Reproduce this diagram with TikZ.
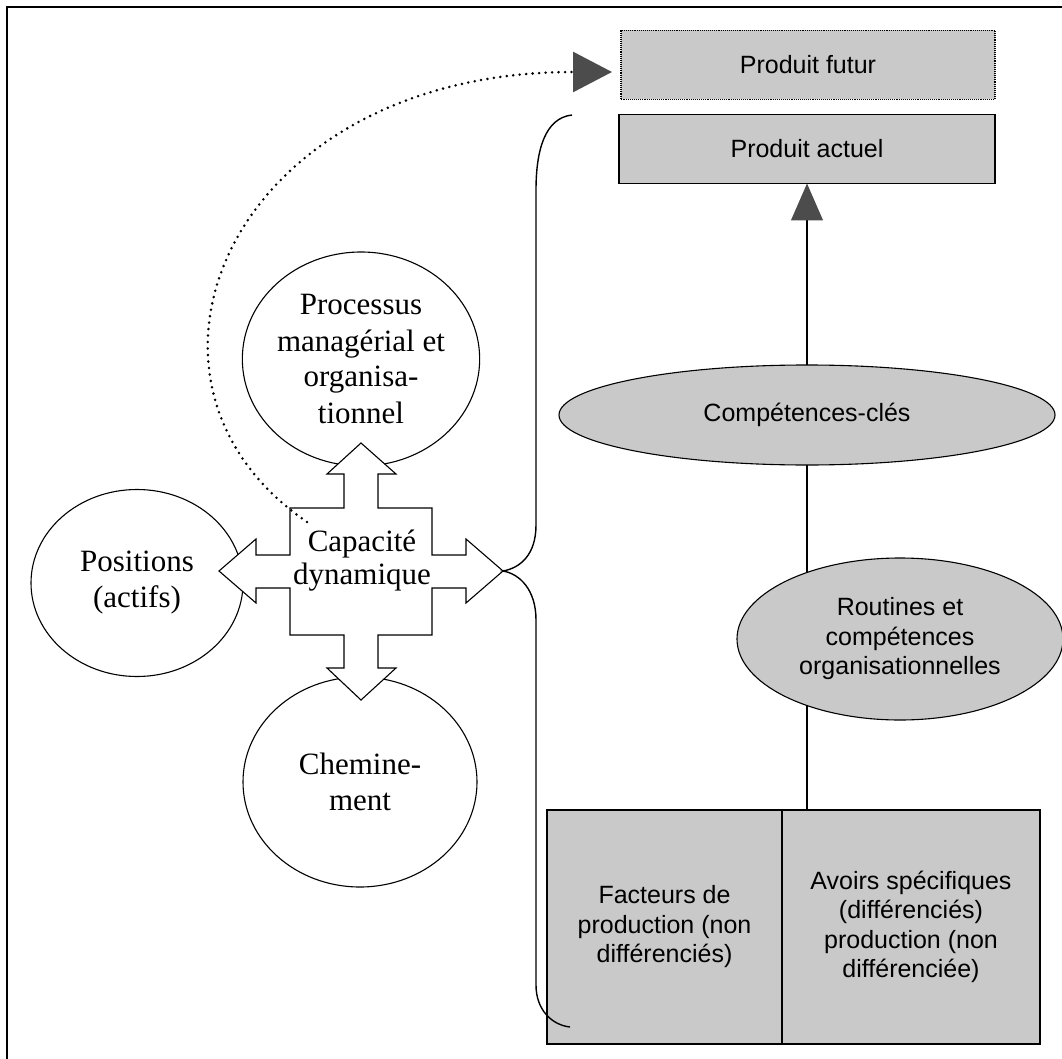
\documentclass[tikz,border=0pt]{standalone}
\usepackage{fontspec}
\setmainfont{Liberation Serif}
\newfontfamily\sansfam{Liberation Sans}
\usetikzlibrary{shapes.geometric,arrows.meta,backgrounds}
\begin{document}
\begin{tikzpicture}[x=1pt,y=-1pt,
  every node/.style={inner sep=0pt, outer sep=0pt},
  serif/.style={font=\fontsize{31}{36}\selectfont, align=center},
  sans/.style={font=\sansfam\fontsize{25}{29.5}\selectfont, align=center},
  shade/.style={fill=black!21},
  thin line/.style={line width=1.1pt},
  roundish/.style={ellipse, draw, thin line, fill=white, serif},
  oval/.style={ellipse, draw, thin line, shade, sans},
  panel/.style={rectangle, draw, line width=1.3pt, shade, sans},
  bigtip/.style={-{Triangle[length=37pt,width=32pt,color=black!70]}},
  dotline/.style={line width=2.8pt, line cap=round, dash pattern=on 0pt off 6.5pt}
]
\useasboundingbox (0,0) rectangle (1062,1059);

% outer frame (only top and left edges are on the page)
\draw[line width=2.2pt] (7,1059) -- (7,7) -- (1062,7);

% right column: products, competences, resources
\node[panel, draw=none, minimum width=374, minimum height=69] (futur) at (808,65) {Produit futur};
\draw[line width=1.1pt, densely dotted] (futur.north west) rectangle (futur.south east);
\node[panel, minimum width=376, minimum height=69] (actuel) at (807,149) {Produit actuel};
\node[oval, minimum width=496, minimum height=100] (cles) at (807,415) {Compétences-clés};
\node[oval, minimum width=326, minimum height=162] (routines) at (900,639)
  {Routines et\\compétences\\organisationnelles};
\node[panel, anchor=north west, minimum width=235, minimum height=234] (facteurs) at (547,810)
  {Facteurs de\\production (non\\différenciés)};
\node[panel, anchor=north west, minimum width=258, minimum height=234] (avoirs) at (782,810)
  {Avoirs spécifiques\\(différenciés)\\production (non\\différenciée)};

\begin{pgfonlayer}{background}
  \draw[thin line] (cles.south) -- (cles.south |- avoirs.north);
\end{pgfonlayer}
\draw[thin line, bigtip] (cles.north) -- (actuel.south);

% left part: dynamic capability and its three poles
\node[roundish, minimum width=234, minimum height=214] (proc) at (361,359)
  {Processus\\managérial et\\organisa-\\tionnel};
\node[roundish, minimum width=212, minimum height=187] (pos) at (137,583)
  {Positions\\(actifs)};
\node[roundish, minimum width=234, minimum height=210] (chem) at (360,782)
  {Chemine-\\ment};

% four-way block arrow
\draw[thin line, fill=white]
  (361,443) -- (396,474) -- (378,474) -- (378,508) -- (432,508) -- (432,555)
  -- (466,555) -- (466,539) -- (503,571) -- (466,603) -- (466,588) -- (432,588)
  -- (432,635) -- (378,635) -- (378,668) -- (396,668) -- (361,700) -- (327,668)
  -- (344,668) -- (344,635) -- (290,635) -- (290,588) -- (256,588) -- (256,603)
  -- (219,571) -- (256,539) -- (256,555) -- (290,555) -- (290,508) -- (344,508)
  -- (344,474) -- (327,474) -- cycle;
\node[font=\fontsize{31}{33}\selectfont, align=center] (cap) at (362,561) {Capacité\\dynamique};

% brace joining the arrow to the product and resource levels
\coordinate (rtip) at (503,571);
\coordinate (btop) at (572,115);
\coordinate (bbot) at (570,1027);
\draw[line width=1.4pt] (btop) .. controls (545,118) and (536,150) .. (536,190)
  -- (536,525) .. controls (536,555) and (520,568) .. (rtip)
  .. controls (520,574) and (536,590) .. (536,620)
  -- (536,985) .. controls (536,1010) and (552,1025) .. (bbot);

% dotted link towards the future product
\coordinate (dstart) at (307,522);
\draw[dotline, -{Triangle[length=39pt,width=40pt,color=black!70]}]
  (dstart) .. controls (100,380) and (230,72) .. ([xshift=-9pt,yshift=-7pt]futur.west);
\end{tikzpicture}
\end{document}
